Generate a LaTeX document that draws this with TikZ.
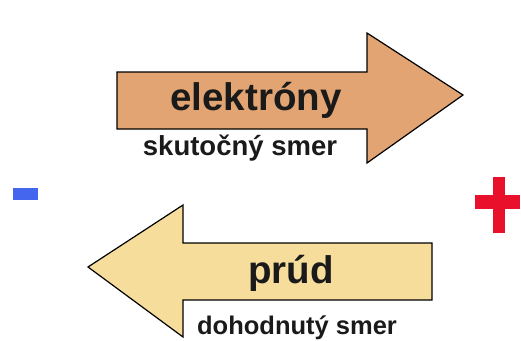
\documentclass[tikz,border=0pt]{standalone}
\usepackage{fontspec}
\setmainfont{Liberation Sans}
\definecolor{orangearrow}{HTML}{E2A472}
\definecolor{yellowarrow}{HTML}{F6DD9C}
\definecolor{minusblue}{HTML}{4466EE}
\definecolor{plusred}{HTML}{E8102A}
\definecolor{txt}{HTML}{1A1A1A}
\tikzset{
  arrowshape/.style={draw=black, line width=1.2pt, line join=miter},
  bigtext/.style={font=\bfseries\fontsize{38.5}{40}\selectfont, text=txt, inner sep=0pt, anchor=base},
  smalltext/.style={font=\bfseries\fontsize{27.5}{28}\selectfont, text=txt, inner sep=0pt, anchor=base},
  smalltextb/.style={font=\bfseries\fontsize{25.5}{28}\selectfont, text=txt, inner sep=0pt, anchor=base},
}
\begin{document}
\begin{tikzpicture}[x=1pt,y=-1pt]
\useasboundingbox (0,0) rectangle (521,340);
% top arrow (electrons)
\draw[arrowshape, fill=orangearrow] (117,72) -- (367,72) -- (367,33) -- (463,95) -- (367,163) -- (367,129) -- (117,129) -- cycle;
\node[bigtext] (el) at (256,110) {elektróny};
\node[smalltext] (sk) at (240,155) {skutočný smer};
% bottom arrow (current)
\draw[arrowshape, fill=yellowarrow] (432,243) -- (183,243) -- (183,205) -- (88,267) -- (183,337) -- (183,300) -- (432,300) -- cycle;
\node[bigtext] (pr) at (291,283) {prúd};
\node[smalltextb] (do) at (297,334) {dohodnutý smer};
% minus
\fill[minusblue] (13,188) rectangle (38,200);
% plus
\fill[plusred] (475,195) rectangle (520,209);
\fill[plusred] (493,177) rectangle (505,233);
\end{tikzpicture}
\end{document}
